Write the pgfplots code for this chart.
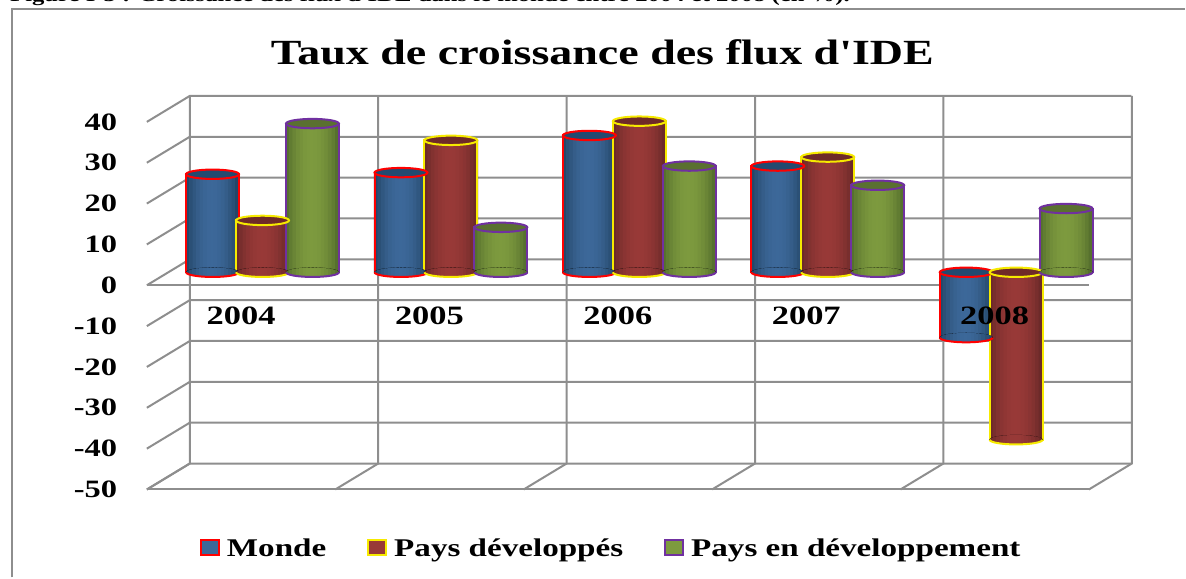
\documentclass[border=0pt]{standalone}
\usepackage{fontspec}
\setmainfont{Liberation Serif}
\newfontfamily\chartfont[FakeStretch=1.3]{Liberation Serif}
\usepackage{pgfplots}
\usepackage{pgfplotstable}
\pgfplotsset{compat=1.18}

\definecolor{gridc}{HTML}{8E8E8E}
\definecolor{bluemid}{HTML}{3C6899}
\definecolor{blueedge}{HTML}{254768}
\definecolor{bluetop}{HTML}{234A70}
\definecolor{redmid}{HTML}{983937}
\definecolor{rededge}{HTML}{6C2A29}
\definecolor{redtop}{HTML}{6F2A28}
\definecolor{greenmid}{HTML}{7D9A3E}
\definecolor{greenedge}{HTML}{56702E}
\definecolor{greentop}{HTML}{5A7030}
\definecolor{lnred}{HTML}{FF0000}
\definecolor{lnyellow}{HTML}{F6EA00}
\definecolor{lnpurple}{HTML}{7030A0}

% x, value, y of the top ellipse, y of the bottom ellipse
\pgfplotstableread{
x v top base
0 24.0 24.0 0
1 24.4 24.4 0
2 33.5 33.5 0
3 26.0 26.0 0
4 -16.0 0 -16.0
}\monde
\pgfplotstableread{
x v top base
0 12.7 12.7 0
1 32.3 32.3 0
2 37.0 37.0 0
3 28.2 28.2 0
4 -41.0 0 -41.0
}\developpes
\pgfplotstableread{
x v top base
0 36.4 36.4 0
1 11.0 11.0 0
2 26.0 26.0 0
3 21.3 21.3 0
4 15.6 15.6 0
}\endev

% how much of the middle colour each strip of a cylinder gets
\newcommand{\stripmix}[1]{\ifcase\numexpr\ifnum#1<0 -\fi#1\relax 100\or 98\or 92\or 82\or 68\or 50\or 28\or 0\fi}

\newcommand{\cylmarks}[3]{%
  \pgfdeclareplotmark{base#1}{%
    \begin{scope}[rotate=4]
      \clip (0pt,0pt) ellipse (26.5pt and 4.7pt);
      \foreach \k in {-7,-6,-5,-4,-3,-2,-1,0,1,2,3,4,5,6,7}{
        \fill[#2mid!\stripmix{\k}!#2edge] ({(\k*3.55-2.25)*1pt},-6pt) rectangle ({(\k*3.55+2.25)*1pt},6pt);
      }
    \end{scope}
    \draw[#3,line width=2pt,rotate=4] (-26.5pt,0pt) arc (180:360:26.5pt and 4.7pt);}%
  \pgfdeclareplotmark{top#1}{%
    \path[fill=#2top,draw=#3,line width=2pt,rotate=4] (0pt,0pt) ellipse (26.5pt and 4.7pt);}%
}
\cylmarks{a}{blue}{lnred}
\cylmarks{b}{red}{lnyellow}
\cylmarks{c}{green}{lnpurple}

\newcommand{\cyl}[5]{% table, shift, colour, line, mark
  \pgfplotsinvokeforeach{-7,-6,-5,-4,-3,-2,-1,0,1,2,3,4,5,6,7}{
    \addplot[forget plot,ybar,bar width=4.5pt,bar shift=##1*3.55pt,xshift=#2,yshift=13pt,
      draw=none,fill={#3mid!\stripmix{##1}!#3edge}] table[x=x,y=v] {#1};
  }
  \addplot[ybar,bar width=53pt,bar shift=0pt,xshift=#2,yshift=13pt,
    fill=none,draw=#4,line width=2pt,
    legend image code/.code={\draw[fill=#3mid,draw=#4,line width=2pt] (0pt,-19.5pt) rectangle (18pt,-4.5pt);}]
    table[x=x,y=v] {#1};
  \addplot[forget plot,only marks,mark=base#5,xshift=#2,yshift=13pt] table[x=x,y=base] {#1};
  \addplot[forget plot,only marks,mark=top#5,xshift=#2,yshift=13pt] table[x=x,y=top] {#1};
}

\begin{document}
\begin{tikzpicture}
\path (0,0) rectangle (1186pt,578pt);
\node[overlay,anchor=base west,inner sep=0pt,font=\chartfont\bfseries\fontsize{19}{19}\selectfont] at (10pt,576pt)
  {Figure I-3 : Croissance des flux d'IDE dans le monde entre 2004 et 2008 (en \%).};
\draw[gridc,line width=2.5pt] (12pt,0pt) -- (12pt,569pt) -- (1186pt,569pt);
\begin{axis}[
  axis on top,
  at={(147pt,88pt)},anchor=south west,
  scale only axis,width=943pt,height=368pt,
  clip=false,
  xmin=-0.5,xmax=4.5,ymin=-50,ymax=40,
  axis x line=middle,axis y line=left,
  axis line style={draw=none},
  xtick={0,1,2,3,4},xticklabels={2004,2005,2006,2007,2008},
  ytick={-50,-40,-30,-20,-10,0,10,20,30,40},
  yticklabels={-50,-40,-30,-20,-10,0,10,20,30,40},
  tick style={draw=none},
  tick label style={font=\chartfont\bfseries\fontsize{25}{25}\selectfont},
  x tick label style={anchor=center,yshift=-28pt,font=\chartfont\bfseries\fontsize{26.5}{26.5}\selectfont},
  y tick label style={anchor=east,xshift=-24pt},
  title={Taux de croissance des flux d'IDE},
  title style={at={(axis description cs:0.4836,1)},anchor=center,yshift=64pt,
    font=\chartfont\bfseries\fontsize{35.4}{35.4}\selectfont},
  legend columns=3,
  legend style={draw=none,fill=none,anchor=west,
    at={(axis description cs:0.053,-0.1605)},
    font=\chartfont\bfseries\fontsize{25.5}{25.5}\selectfont,
    /tikz/every odd column/.style={column sep=5pt},
    /tikz/every even column/.style={column sep=39pt}},
]
\pgfplotsinvokeforeach{-50,-40,-30,-20,-10,0,10,20,30,40}{
  \draw[gridc,line width=2pt] (axis cs:-0.5,#1) -- ++(43pt,26pt) -- ++(942.5pt,0pt);
}
\pgfplotsinvokeforeach{-0.5,0.5,1.5,2.5,3.5,4.5}{
  \draw[gridc,line width=2pt] (axis cs:#1,-50) -- ++(43pt,26pt) -- ++(0pt,368pt);
}
\draw[gridc,line width=2pt] (axis cs:-0.5,-50) -- (axis cs:4.5,-50);
\draw[gridc,line width=2pt] (axis cs:-0.5,0) -- (axis cs:4.5,0);
\cyl{\monde}{-28.5pt}{blue}{lnred}{a}
\cyl{\developpes}{21.5pt}{red}{lnyellow}{b}
\cyl{\endev}{71.5pt}{green}{lnpurple}{c}
\legend{Monde,Pays développés,Pays en développement}
\end{axis}
\end{tikzpicture}
\end{document}
